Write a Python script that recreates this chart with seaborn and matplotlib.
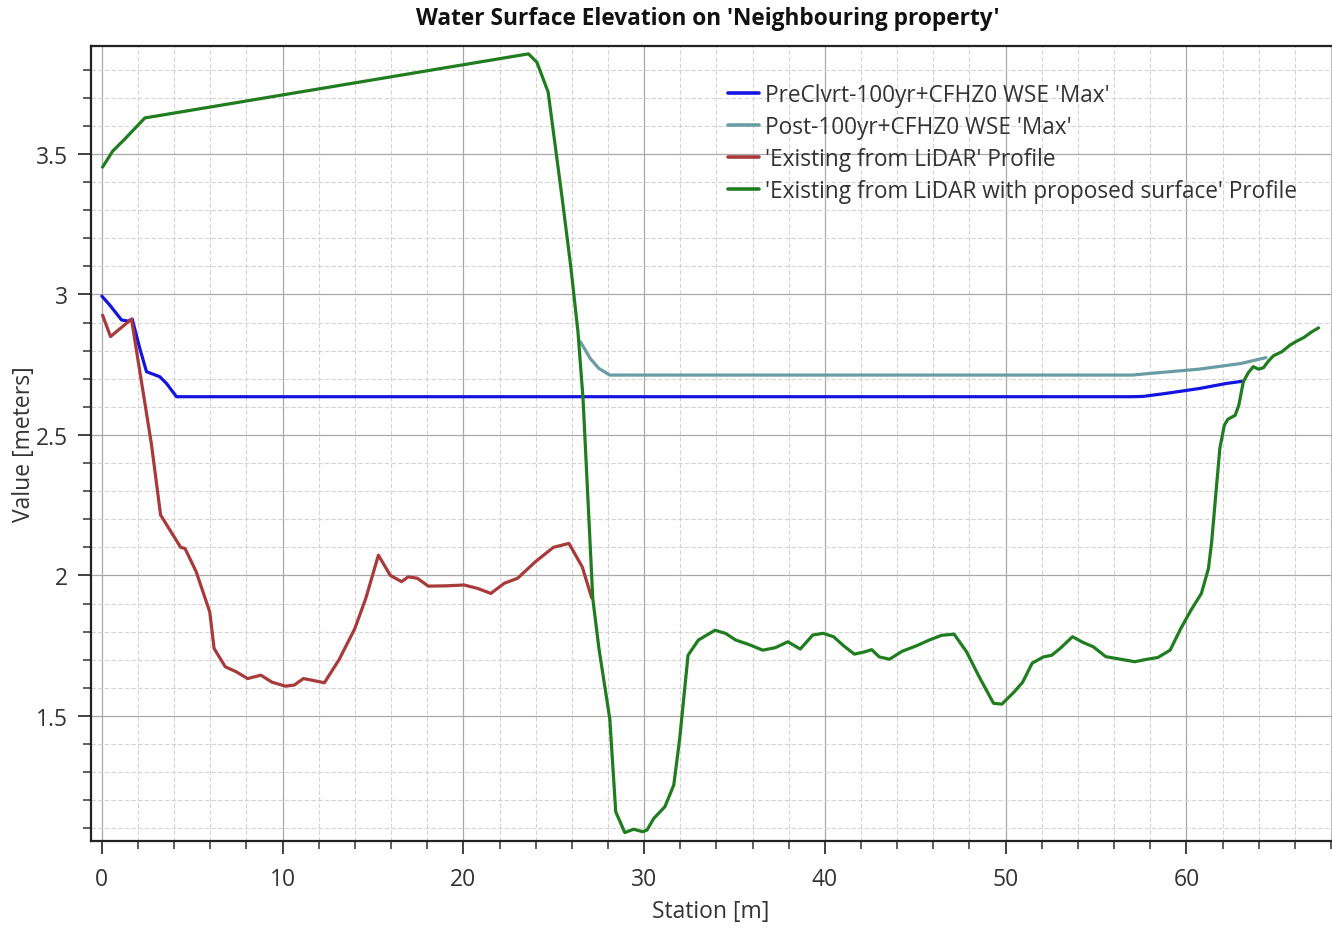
import matplotlib
matplotlib.use("Agg")
import matplotlib.pyplot as plt
import seaborn as sns
import pandas as pd
import numpy as np
from matplotlib.ticker import MultipleLocator

# ---------------- data ----------------
pre_x = [0.0, 0.44, 1.09, 1.46, 1.68, 2.1, 2.47, 3.21, 3.58, 4.13, 57.0, 57.6, 58.9, 60.7, 62.2, 63.1]
pre_y = [2.994, 2.962, 2.909, 2.905, 2.912, 2.808, 2.725, 2.707, 2.683, 2.636, 2.636, 2.637, 2.648, 2.665, 2.683, 2.691]

post_x = [26.47, 27.02, 27.49, 28.1, 57.0, 58.0, 60.7, 63.0, 64.4]
post_y = [2.832, 2.772, 2.737, 2.713, 2.713, 2.719, 2.734, 2.754, 2.775]

exist_x = [0.04, 0.48, 1.64, 2.75, 3.25, 4.36, 4.6, 5.22, 5.97, 6.21, 6.83, 7.44, 8.06, 8.8, 9.42,
           10.16, 10.65, 11.15, 11.64, 12.31, 13.12, 13.99, 14.6, 15.3, 15.96, 16.58, 16.95, 17.45,
           18.06, 19.05, 20.04, 20.78, 21.52, 22.26, 23.0, 23.99, 24.98, 25.84, 26.58, 27.1]
exist_y = [2.926, 2.85, 2.912, 2.464, 2.215, 2.10, 2.096, 2.013, 1.87, 1.74, 1.675, 1.657, 1.633, 1.645, 1.62,
           1.606, 1.61, 1.633, 1.627, 1.618, 1.70, 1.81, 1.918, 2.072, 2.0, 1.978, 1.995, 1.99,
           1.962, 1.963, 1.966, 1.954, 1.936, 1.972, 1.99, 2.049, 2.10, 2.114, 2.03, 1.92]

prop_x = [0.04, 0.6, 1.27, 2.38, 23.6, 24.07, 24.69, 25.47, 25.94, 26.34, 26.62, 27.16, 27.5, 28.1,
          28.43, 28.93, 29.42, 29.92, 30.16, 30.53, 31.15, 31.64, 31.97, 32.43, 33.0, 33.92, 34.5,
          35.07, 35.76, 36.57, 37.26, 37.95, 38.64, 39.33, 39.9, 40.48, 41.05, 41.63, 42.2, 42.59,
          43.01, 43.58, 44.27, 45.08, 45.77, 46.46, 47.15, 47.84, 48.53, 49.33, 49.79, 50.48, 50.94,
          51.47, 52.09, 52.55, 53.01, 53.7, 54.27, 54.85, 55.54, 56.34, 57.15, 57.84, 58.42, 59.1,
          59.68, 60.25, 60.83, 61.22, 61.4, 61.64, 61.85, 62.1, 62.3, 62.7, 62.9, 63.15, 63.43, 63.7,
          63.98, 64.26, 64.54, 64.82, 65.28, 65.74, 66.11, 66.48, 66.94, 67.31]
prop_y = [3.453, 3.51, 3.553, 3.628, 3.856, 3.826, 3.72, 3.34, 3.10, 2.867, 2.63, 1.918, 1.74, 1.49,
          1.159, 1.085, 1.097, 1.088, 1.094, 1.135, 1.177, 1.254, 1.42, 1.716, 1.77, 1.805, 1.794,
          1.77, 1.755, 1.734, 1.743, 1.764, 1.738, 1.788, 1.794, 1.782, 1.749, 1.72, 1.728, 1.736,
          1.71, 1.702, 1.73, 1.75, 1.77, 1.787, 1.791, 1.728, 1.64, 1.545, 1.542, 1.586, 1.62,
          1.688, 1.71, 1.716, 1.74, 1.782, 1.762, 1.746, 1.711, 1.702, 1.693, 1.702, 1.708, 1.734,
          1.81, 1.876, 1.936, 2.025, 2.12, 2.298, 2.452, 2.535, 2.556, 2.57, 2.606, 2.689, 2.722, 2.743,
          2.734, 2.739, 2.763, 2.782, 2.796, 2.82, 2.834, 2.846, 2.867, 2.881]

labels = ["PreClvrt-100yr+CFHZ0 WSE 'Max'",
          "Post-100yr+CFHZ0 WSE 'Max'",
          "'Existing from LiDAR' Profile",
          "'Existing from LiDAR with proposed surface' Profile"]
colors = ["#1414e0", "#6a9ca4", "#a83a3a", "#1f7d1f"]

title = "Water Surface Elevation on 'Neighbouring property'"
xlabel = "Station [m]"
ylabel = "Value [meters]"

# ---------------- plot ----------------
sns.set_style("white")
plt.rcParams['font.family'] = ['Open Sans', 'DejaVu Sans']

fig = plt.figure(figsize=(13.32, 9.29), dpi=100)
W, H = 1332, 929
ax = fig.add_axes([91 / W, 1 - 842 / H, (1331 - 91) / W, (842 - 47) / H])

series = [(pre_x, pre_y), (post_x, post_y), (exist_x, exist_y), (prop_x, prop_y)]
for (xs, ys), lab, col in zip(series, labels, colors):
    df = pd.DataFrame({"Station": xs, "Value": ys})
    sns.lineplot(data=df, x="Station", y="Value", ax=ax, color=col, linewidth=2.3,
                 sort=False, estimator=None, label=lab)

ax.set_xlim(-0.6, 68)
ax.set_ylim(1.055, 3.884)

ax.xaxis.set_major_locator(MultipleLocator(10))
ax.xaxis.set_minor_locator(MultipleLocator(2))
ax.yaxis.set_major_locator(MultipleLocator(0.5))
ax.yaxis.set_minor_locator(MultipleLocator(0.1))
ax.yaxis.set_major_formatter(matplotlib.ticker.FuncFormatter(lambda v, p: f"{v:g}"))

ax.grid(which="major", color="#a8a8a8", linewidth=0.9, linestyle="-")
ax.grid(which="minor", color="#d4d4d4", linewidth=0.8, linestyle=(0, (4, 2)))
ax.set_axisbelow(True)

ax.tick_params(axis="x", which="major", pad=9)
ax.tick_params(axis="y", which="major", pad=7)
ax.tick_params(which="major", direction="out", length=9.5, width=1.3, color="#333333",
               labelsize=16.5, labelcolor="#333333", bottom=True, left=True)
ax.tick_params(which="minor", direction="out", length=6, width=1.1, color="#333333",
               bottom=True, left=True)

for s in ["left", "bottom", "top"]:
    ax.spines[s].set_color("#222222")
    ax.spines[s].set_linewidth(1.6)
ax.spines["right"].set_color("#bbbbbb")
ax.spines["right"].set_linewidth(0.8)

ax.set_xlabel(xlabel, fontsize=16.5, color="#333333", labelpad=6)
ax.set_ylabel(ylabel, fontsize=16.5, color="#333333", labelpad=0)

fig.text(708 / W, 1 - 19 / H, title, ha="center", va="center", fontsize=16.3,
         fontweight="bold", color="#111111")

leg = ax.legend(loc="upper left", bbox_to_anchor=(728 / W, 1 - 84 / H),
                bbox_transform=fig.transFigure, frameon=False, fontsize=16.3,
                handlelength=1.35, handletextpad=0.3, labelspacing=0.35, borderpad=0,
                borderaxespad=0)
for t in leg.get_texts():
    t.set_color("#333333")
for lh in leg.get_lines():
    lh.set_linewidth(2.6)

fig.savefig("out.png", dpi=100)
